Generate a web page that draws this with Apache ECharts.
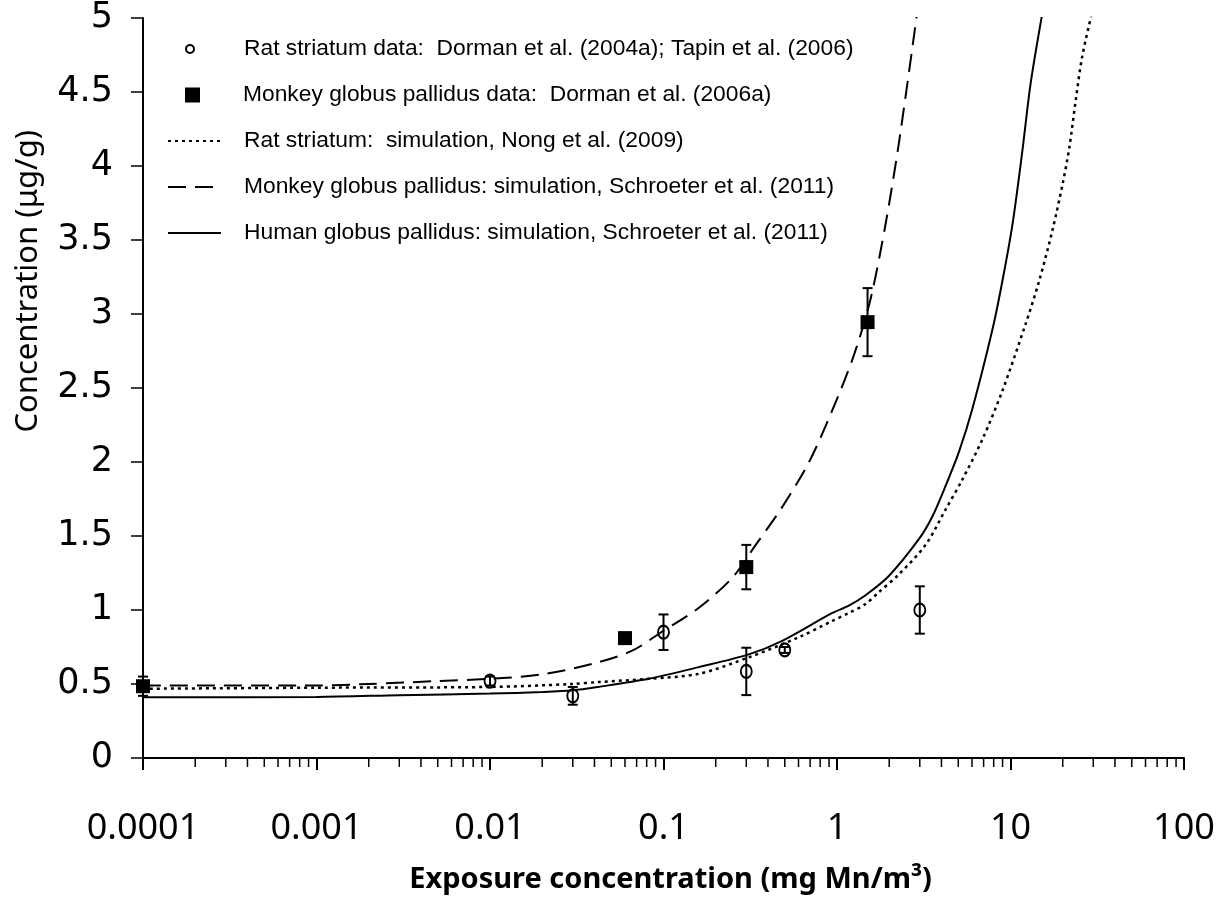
<!DOCTYPE html>
<html>
<head>
<meta charset="utf-8">
<script src="https://cdn.jsdelivr.net/npm/echarts@6/dist/echarts.min.js"></script>
<style>
html,body{margin:0;padding:0;background:#fff;}
#main{width:1222px;height:899px;}
</style>
</head>
<body>
<div id="main"></div>
<script>
// ---- data ----
const xTickLabels = ['0.0001', '0.001', '0.01', '0.1', '1', '10', '100'];
const yTickLabels = ['0', '0.5', '1', '1.5', '2', '2.5', '3', '3.5', '4', '4.5', '5'];

const seriesNames = [
  'Rat striatum data:  Dorman et al. (2004a); Tapin et al. (2006)',
  'Monkey globus pallidus data:  Dorman et al. (2006a)',
  'Rat striatum:  simulation, Nong et al. (2009)',
  'Monkey globus pallidus: simulation, Schroeter et al. (2011)',
  'Human globus pallidus: simulation, Schroeter et al. (2011)'
];

// Rat striatum data (open circles) with error bars
const ratX   = [0.01, 0.03, 0.1, 0.3, 0.5, 3];
const ratY   = [0.52, 0.42, 0.85, 0.585, 0.73, 1.0];
const ratErr = [0.03, 0.06, 0.12, 0.16, 0.02, 0.16];

// Monkey globus pallidus data (filled squares) with error bars
const monkeyX   = [0.0001, 0.06, 0.3, 1.5];
const monkeyY   = [0.485, 0.81, 1.29, 2.945];
const monkeyErr = [0.065, 0, 0.15, 0.23];

// Rat striatum simulation (dotted)
const ratSimX = [0.0001, 0.001, 0.01, 0.03, 0.042, 0.082, 0.16, 0.31, 0.6, 0.94, 1.17, 1.46, 1.74, 2.27, 3.24, 4.23, 5.27, 6.87, 8.97, 12.2, 14.6, 17.4, 19.9, 21.8, 23.8, 25.9, 29.4];
const ratSimY = [0.468, 0.475, 0.48, 0.50, 0.513, 0.535, 0.569, 0.68, 0.815, 0.926, 0.98, 1.04, 1.12, 1.24, 1.44, 1.68, 1.88, 2.15, 2.48, 2.93, 3.22, 3.56, 3.87, 4.12, 4.45, 4.74, 5.03];

// Monkey globus pallidus simulation (dashed)
const monkeySimX = [0.0001, 0.001, 0.002, 0.005, 0.01, 0.02, 0.04, 0.066, 0.1, 0.16, 0.25, 0.34, 0.48, 0.69, 0.94, 1.25, 1.56, 1.9, 2.27, 2.9];
const monkeySimY = [0.49, 0.49, 0.50, 0.52, 0.535, 0.565, 0.64, 0.725, 0.86, 1.015, 1.22, 1.44, 1.69, 2.0, 2.35, 2.72, 3.1, 3.6, 4.15, 5.04];

// Human globus pallidus simulation (solid)
const humanSimX = [0.0001, 0.001, 0.003, 0.01, 0.02, 0.03, 0.042, 0.082, 0.16, 0.31, 0.48, 0.94, 1.17, 1.46, 1.99, 2.97, 3.54, 4.23, 5.05, 6.03, 7.85, 8.97, 10.25, 11.7, 13.07, 15.3];
const humanSimY = [0.41, 0.413, 0.424, 0.435, 0.446, 0.457, 0.48, 0.535, 0.614, 0.70, 0.79, 0.98, 1.03, 1.10, 1.23, 1.48, 1.63, 1.84, 2.07, 2.36, 2.89, 3.22, 3.6, 4.1, 4.56, 5.04];

// minor tick multipliers for the log axis
const minorMult = [2, 3, 4, 5, 6, 7, 8, 9];
const decades = [0.0001, 0.001, 0.01, 0.1, 1, 10];

// ---- build ----
const zip = (xs, ys) => xs.map((x, i) => [x, ys[i]]);
const minorTicks = [];
decades.forEach(d => minorMult.forEach(m => minorTicks.push([d * m, 0])));

function errRender(params, api) {
  const x = api.value(0), y = api.value(1), e = api.value(2);
  if (!e) return null;
  const top = api.coord([x, y + e]);
  const bot = api.coord([x, y - e]);
  const hw = 5;
  const st = { stroke: '#000', lineWidth: 2 };
  return {
    type: 'group',
    children: [
      { type: 'line', shape: { x1: top[0], y1: top[1], x2: bot[0], y2: bot[1] }, style: st },
      { type: 'line', shape: { x1: top[0] - hw, y1: top[1], x2: top[0] + hw, y2: top[1] }, style: st },
      { type: 'line', shape: { x1: bot[0] - hw, y1: bot[1], x2: bot[0] + hw, y2: bot[1] }, style: st }
    ]
  };
}

const legendText = { fontFamily: 'Liberation Sans', fontSize: 22.8, color: '#000', lineHeight: 26 };
function oneLegend(i, left, top, w, h, pad) {
  return {
    orient: 'vertical',
    left: left,
    top: top - 16,
    itemWidth: w,
    itemHeight: h,
    selectedMode: false,
    textStyle: Object.assign({}, legendText, { padding: [0, 0, 0, pad] }),
    data: [seriesNames[i]]
  };
}

const chart = echarts.init(document.getElementById('main'), null, { renderer: 'canvas' });
chart.setOption({
  backgroundColor: '#fff',
  animation: false,
  grid: { left: 143, right: 38, top: 18, bottom: 136, containLabel: false },
  legend: [
    oneLegend(0, 180, 47, 8, 9, 45),
    oneLegend(1, 180, 93, 15, 15, 38),
    oneLegend(2, 162, 139, 53, 4, 18),
    oneLegend(3, 162, 185, 53, 4, 18),
    oneLegend(4, 162, 231, 53, 4, 18)
  ],
  xAxis: {
    type: 'log',
    logBase: 10,
    min: 0.0001,
    max: 100,
    splitLine: { show: false },
    axisLine: { lineStyle: { color: '#000', width: 2 } },
    axisTick: { length: 12, lineStyle: { color: '#000', width: 2 } },
    axisLabel: {
      margin: 53,
      fontFamily: 'Noto Sans',
      fontSize: 36,
      color: '#000',
      formatter: v => {
        const i = Math.round(Math.log10(v)) + 4;
        return xTickLabels[i] !== undefined ? xTickLabels[i] : '';
      }
    },
    name: 'Exposure concentration (mg Mn/m³)',
    nameLocation: 'middle',
    nameGap: 107,
    nameTextStyle: { fontFamily: 'Noto Sans', fontWeight: 'bold', fontSize: 29, color: '#000', padding: [0, 0, 0, 14] }
  },
  yAxis: {
    type: 'value',
    min: 0,
    max: 5,
    interval: 0.5,
    splitLine: { show: false },
    axisLine: { show: true, lineStyle: { color: '#000', width: 2 } },
    axisTick: { show: true, length: 12, lineStyle: { color: '#000', width: 1.5 } },
    axisLabel: {
      margin: 30,
      fontFamily: 'DejaVu Sans',
      fontSize: 35,
      color: '#000',
      formatter: v => yTickLabels[Math.round(v * 2)]
    }
  },
  graphic: [{
    type: 'text',
    left: 13,
    top: 130,
    rotation: Math.PI / 2,
    style: {
      text: 'Concentration (μg/g)',
      fontFamily: 'Noto Sans',
      fontSize: 31,
      fill: '#000'
    }
  }],
  series: [
    {
      name: seriesNames[0],
      type: 'scatter',
      symbol: 'circle',
      symbolSize: [11, 13],
      itemStyle: { color: 'rgba(255,255,255,0)', borderColor: '#000', borderWidth: 2, opacity: 1 },
      data: zip(ratX, ratY),
      z: 5
    },
    {
      name: seriesNames[1],
      type: 'scatter',
      symbol: 'rect',
      symbolSize: 14,
      itemStyle: { color: '#000', opacity: 1 },
      data: zip(monkeyX, monkeyY),
      z: 5
    },
    {
      name: seriesNames[2],
      type: 'line',
      symbol: 'none',
      smooth: 0.3,
      itemStyle: { color: 'rgba(0,0,0,0)', borderWidth: 0 },
      lineStyle: { color: '#000', width: 2.5, type: [3, 4] },
      data: zip(ratSimX, ratSimY),
      z: 3
    },
    {
      name: seriesNames[3],
      type: 'line',
      symbol: 'none',
      smooth: 0.3,
      itemStyle: { color: 'rgba(0,0,0,0)', borderWidth: 0 },
      lineStyle: { color: '#000', width: 2, type: [18, 9] },
      data: zip(monkeySimX, monkeySimY),
      z: 3
    },
    {
      name: seriesNames[4],
      type: 'line',
      symbol: 'none',
      smooth: 0.3,
      itemStyle: { color: 'rgba(0,0,0,0)', borderWidth: 0 },
      lineStyle: { color: '#000', width: 2, type: 'solid' },
      data: zip(humanSimX, humanSimY),
      z: 3
    },
    {
      type: 'custom',
      renderItem: errRender,
      data: ratX.map((x, i) => [x, ratY[i], ratErr[i]]),
      z: 6,
      silent: true
    },
    {
      type: 'custom',
      renderItem: errRender,
      data: monkeyX.map((x, i) => [x, monkeyY[i], monkeyErr[i]]),
      z: 6,
      silent: true
    },
    {
      type: 'custom',
      silent: true,
      clip: false,
      renderItem: (params, api) => {
        const p = api.coord([api.value(0), 0]);
        return { type: 'line', shape: { x1: p[0], y1: p[1], x2: p[0], y2: p[1] + 9 }, style: { stroke: '#000', lineWidth: 1.5 } };
      },
      data: minorTicks
    }
  ]
});
</script>
</body>
</html>
